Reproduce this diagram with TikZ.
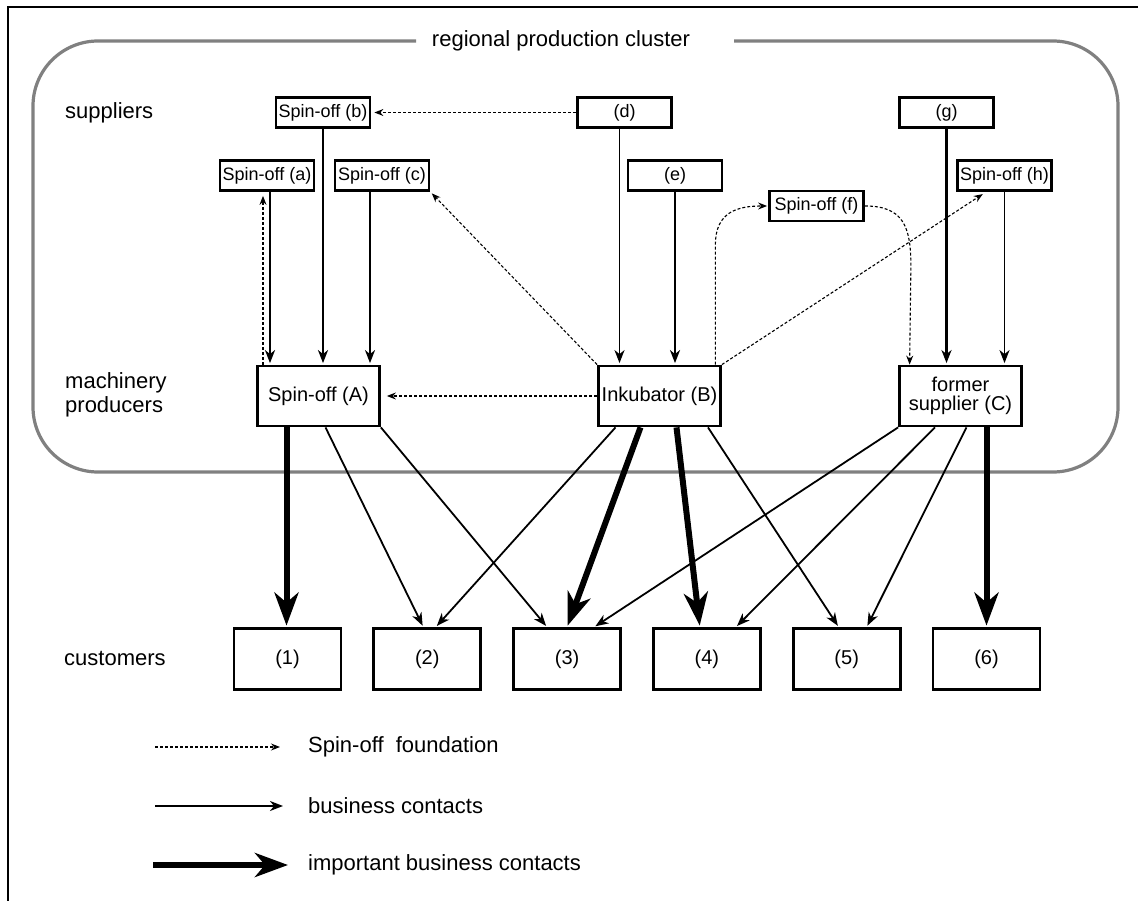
\documentclass[tikz,border=0pt]{standalone}
\usepackage{fontspec}
\setmainfont{Liberation Sans}
\usetikzlibrary{arrows.meta,calc}
\begin{document}
\begin{tikzpicture}[x=1pt,y=-1pt,
  sbox/.style={draw, line width=2.8pt, minimum width=94pt, minimum height=30pt, inner sep=0pt, font=\fontsize{18}{20}\selectfont},
  mbox/.style={draw, line width=2.8pt, minimum width=122pt, minimum height=60pt, inner sep=0pt, align=center, font=\fontsize{20}{19}\selectfont},
  cbox/.style={draw, line width=2.8pt, minimum width=107pt, minimum height=61pt, inner sep=0pt, font=\fontsize{20}{22}\selectfont},
  lbl/.style={anchor=west, inner sep=0pt, align=left, font=\fontsize{22}{24}\selectfont},
  biz/.style={line width=1.8pt, -{Stealth[length=13pt,width=10pt,inset=4pt]}, shorten >=1.5pt},
  bizb/.style={biz, line width=2.3pt},
  imp/.style={line width=6pt, -{Stealth[length=33pt,width=24pt,inset=10pt]}, shorten >=1.5pt},
  spin/.style={line width=1.1pt, dash pattern=on 3pt off 2pt, -{Stealth[length=9pt,width=7pt,inset=3pt]}},
  cluster/.style={draw={rgb,255:red,128;green,128;blue,128}, line width=3.2pt, rounded corners=65pt},
]
\useasboundingbox (0,0) rectangle (1138,901);
% outer frame
\draw[line width=1.2pt] (8,901) -- (8,7) -- (1138,7);
% cluster
\draw[cluster] (734,41) -- (1118,41) -- (1118,472) -- (33,472) -- (33,41) -- (416,41);
\node[font=\fontsize{22}{24}\selectfont, inner sep=0pt] (title) at (561,41) {regional production cluster};

% row labels
\node[lbl] (lsup) at (65,113) {suppliers};
\node[lbl] (lmach) at (65,395) {machinery\\producers};
\node[lbl] (lcust) at (64,658) {customers};

% suppliers
\node[sbox] (a) at (267,175.5) {Spin-off (a)};
\node[sbox] (b) at (323,112.5) {Spin-off (b)};
\node[sbox] (c) at (382,175.5) {Spin-off (c)};
\node[sbox] (d) at (624.5,112.5) {(d)};
\node[sbox] (e) at (675,175.5) {(e)};
\node[sbox] (f) at (816.5,206) {Spin-off (f)};
\node[sbox] (g) at (946.5,112.5) {(g)};
\node[sbox] (h) at (1004.5,175.5) {Spin-off (h)};

% machinery producers
\node[mbox] (A) at (318.5,396) {Spin-off (A)};
\node[mbox] (B) at (659.5,396) {Inkubator (B)};
\node[mbox] (C) at (960.5,396) {former\\supplier (C)};

% customers
\node[cbox] (c1) at (287.5,659) {(1)};
\node[cbox] (c2) at (427.3,659) {(2)};
\node[cbox] (c3) at (567.1,659) {(3)};
\node[cbox] (c4) at (706.9,659) {(4)};
\node[cbox] (c5) at (846.7,659) {(5)};
\node[cbox] (c6) at (986.5,659) {(6)};

% supplier -> machinery
\draw[bizb] ([xshift=3pt]a.south) -- ([xshift=3pt]a.south |- A.north);
\draw[bizb] (b.south) -- (b.south |- A.north);
\draw[biz] ([xshift=-12pt]c.south) -- ([xshift=-12pt]c.south |- A.north);
\draw[biz] ([xshift=-5pt]d.south) -- ([xshift=-5pt]d.south |- B.north);
\draw[bizb] (e.south) -- (e.south |- B.north);
\draw[bizb] (g.south) -- (g.south |- C.north);
\draw[biz] (h.south) -- (h.south |- C.north);

% spin-off foundations
\draw[spin, shorten >=4pt] ([xshift=-4pt]a.south |- A.north) -- ([xshift=-4pt]a.south);
\draw[spin, shorten >=3pt] (d.west) -- (b.east);
\draw[spin, shorten >=2pt] (B.north west) -- (c.south east);
\draw[spin, shorten >=6pt] (B.west) -- (A.east);
\draw[spin, shorten >=1pt] ([xshift=-6.5pt]B.north east) -- ++(0,-120) .. controls +(0,-33) and +(-30,0) .. (f.west);
\draw[spin] (f.east) .. controls +(38,0) and +(0,-40) .. ++(46,60) -- ([xshift=11.5pt]C.north west);
\draw[spin, shorten >=4pt] (B.north east) -- ([xshift=30pt]h.south west);

% business contacts
\draw[biz] ([xshift=7pt]A.south) -- ([xshift=-4pt]c2.north);
\draw[biz] (A.south east) -- ([xshift=-20pt]c3.north);
\draw[biz] ([xshift=-44pt]B.south) -- ([xshift=8.5pt]c2.north);
\draw[biz] ([xshift=48.5pt]B.south) -- ([xshift=-8pt]c5.north);
\draw[biz] (C.south west) -- ([xshift=27pt]c3.north);
\draw[biz] ([xshift=-25.5pt]C.south) -- ([xshift=29pt]c4.north);
\draw[biz] ([xshift=6pt]C.south) -- ([xshift=20pt]c5.north);

% important business contacts
\draw[imp] ([xshift=-32pt]A.south) -- ([xshift=-32pt]A.south |- c1.north);
\draw[imp] ([xshift=-19pt]B.south) -- (c3.north);
\draw[imp] ([xshift=17pt]B.south) -- ([xshift=-7pt]c4.north);
\draw[imp] ([xshift=26pt]C.south) -- ([xshift=26pt]C.south |- c6.north);

% legend
\coordinate (l1s) at (155,747); \coordinate (l1e) at (280,747);
\coordinate (l2s) at (155,806); \coordinate (l2e) at (283,806);
\coordinate (l3s) at (153,865); \coordinate (l3e) at (288,865);
\draw[spin] (l1s) -- (l1e);
\draw[biz, shorten >=0pt] (l2s) -- (l2e);
\draw[imp, shorten >=0pt] (l3s) -- (l3e);
\node[lbl] (t1) at (308,747) {Spin-off\ \ foundation};
\node[lbl] (t2) at (308,806) {business contacts};
\node[lbl] (t3) at (308,865) {important business contacts};
\end{tikzpicture}
\end{document}
